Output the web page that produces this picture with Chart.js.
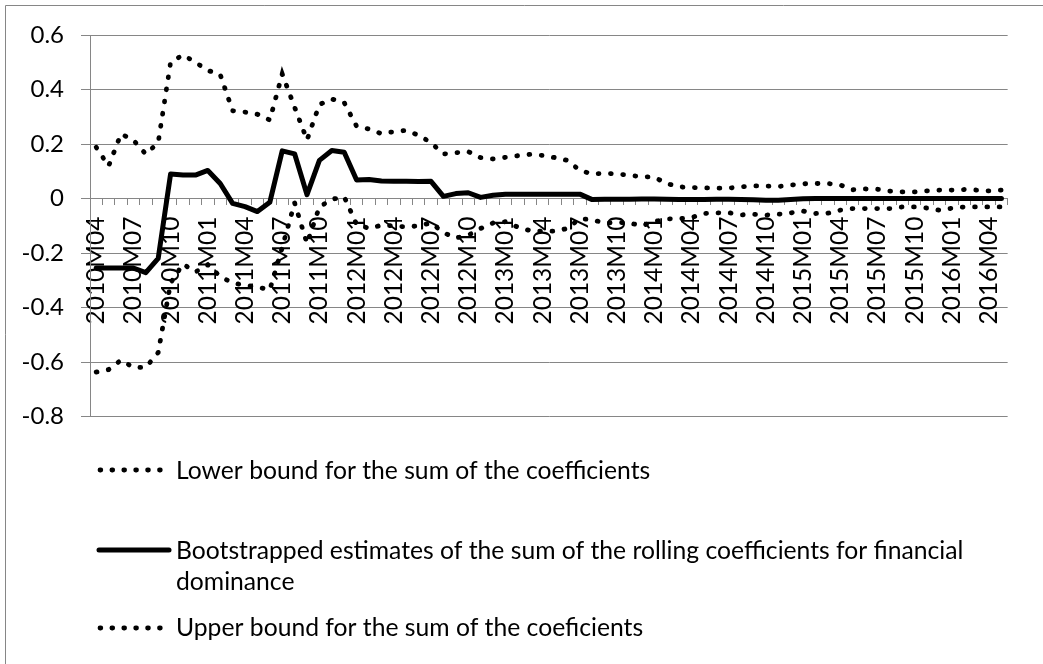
<!DOCTYPE html>
<html>
<head>
<meta charset="utf-8">
<script src="https://cdn.jsdelivr.net/npm/chart.js@4.4.0/dist/chart.umd.min.js"></script>
<style>
html,body{margin:0;padding:0;background:#fff;}
canvas{display:block;}
</style>
</head>
<body>
<canvas id="c" width="1043" height="664"></canvas>
<script>
const categories = [
  '2010M04','2010M05','2010M06','2010M07','2010M08','2010M09','2010M10','2010M11','2010M12',
  '2011M01','2011M02','2011M03','2011M04','2011M05','2011M06','2011M07','2011M08','2011M09','2011M10','2011M11','2011M12',
  '2012M01','2012M02','2012M03','2012M04','2012M05','2012M06','2012M07','2012M08','2012M09','2012M10','2012M11','2012M12',
  '2013M01','2013M02','2013M03','2013M04','2013M05','2013M06','2013M07','2013M08','2013M09','2013M10','2013M11','2013M12',
  '2014M01','2014M02','2014M03','2014M04','2014M05','2014M06','2014M07','2014M08','2014M09','2014M10','2014M11','2014M12',
  '2015M01','2015M02','2015M03','2015M04','2015M05','2015M06','2015M07','2015M08','2015M09','2015M10','2015M11','2015M12',
  '2016M01','2016M02','2016M03','2016M04','2016M05'
];

const lowerBound = [
  -0.637,-0.628,-0.593,-0.620,-0.620,-0.565,-0.310,-0.240,-0.270,
  -0.243,-0.286,-0.310,-0.318,-0.325,-0.335,-0.180,-0.016,-0.165,-0.031,-0.003,0.006,
  -0.095,-0.110,-0.098,-0.100,-0.105,-0.100,-0.090,-0.125,-0.145,-0.135,-0.110,-0.090,
  -0.085,-0.105,-0.118,-0.120,-0.120,-0.110,-0.074,-0.078,-0.090,-0.088,-0.090,-0.100,
  -0.085,-0.075,-0.074,-0.070,-0.055,-0.053,-0.052,-0.060,-0.058,-0.061,-0.058,-0.053,
  -0.046,-0.055,-0.054,-0.043,-0.037,-0.037,-0.037,-0.037,-0.031,-0.031,-0.035,-0.043,
  -0.036,-0.031,-0.031,-0.031,-0.031
];

const estimates = [
  -0.255,-0.255,-0.255,-0.255,-0.272,-0.220,0.090,0.086,0.086,
  0.103,0.055,-0.018,-0.030,-0.048,-0.014,0.175,0.164,0.014,0.140,0.176,0.170,
  0.068,0.070,0.064,0.063,0.063,0.062,0.063,0.008,0.018,0.021,0.004,0.012,
  0.016,0.016,0.016,0.016,0.016,0.016,0.016,-0.004,-0.003,-0.003,-0.003,-0.002,
  -0.002,-0.003,-0.004,-0.004,-0.004,-0.003,-0.003,-0.004,-0.005,-0.006,-0.006,-0.004,
  -0.001,0.000,0.000,0.000,0.000,0.000,0.000,0.000,0.000,0.000,0.000,0.000,
  0.000,0.000,0.000,0.000,0.000
];

const upperBound = [
  0.188,0.119,0.237,0.214,0.163,0.205,0.500,0.527,0.500,
  0.470,0.455,0.322,0.317,0.309,0.288,0.457,0.335,0.215,0.345,0.365,0.352,
  0.265,0.255,0.238,0.245,0.250,0.232,0.205,0.163,0.168,0.172,0.150,0.145,
  0.151,0.157,0.162,0.158,0.150,0.140,0.103,0.090,0.092,0.090,0.085,0.080,
  0.078,0.055,0.043,0.040,0.039,0.038,0.038,0.043,0.046,0.046,0.044,0.049,
  0.054,0.055,0.055,0.050,0.032,0.035,0.034,0.027,0.024,0.024,0.028,0.031,
  0.031,0.033,0.031,0.028,0.031
];

const legendTexts = [
  ['Lower bound for the sum of the coefficients'],
  ['Bootstrapped estimates of the sum of the rolling coefficients for financial', 'dominance'],
  ['Upper bound for the sum of the coeficients']
];

const FONT = 'Lato';
const GRID = '#868686';

const frameAndLegend = {
  id: 'frameAndLegend',
  beforeDraw(chart) {
    const ctx = chart.ctx;
    ctx.save();
    ctx.fillStyle = '#fff';
    ctx.fillRect(0, 0, chart.width, chart.height);
    ctx.strokeStyle = GRID;
    ctx.lineWidth = 1;
    ctx.beginPath();
    ctx.moveTo(5.5, chart.height);
    ctx.lineTo(5.5, 5.5);
    ctx.lineTo(chart.width, 5.5);
    ctx.stroke();
    ctx.restore();
  },
  afterDraw(chart) {
    const ctx = chart.ctx;
    ctx.save();
    ctx.fillStyle = '#000';
    ctx.strokeStyle = '#000';
    ctx.font = '24.7px ' + FONT;
    ctx.textBaseline = 'alphabetic';
    ctx.textAlign = 'left';
    const items = [
      {dash: true, y: 470, base: [478.5]},
      {dash: false, y: 550, base: [558.5, 590]},
      {dash: true, y: 628, base: [636]}
    ];
    items.forEach((it, k) => {
      ctx.beginPath();
      ctx.lineCap = 'round';
      if (it.dash) {
        ctx.lineWidth = 4.8;
        ctx.setLineDash([0.8, 11.1]);
        ctx.moveTo(100, it.y);
        ctx.lineTo(161, it.y);
      } else {
        ctx.lineWidth = 5;
        ctx.setLineDash([]);
        ctx.moveTo(99, it.y);
        ctx.lineTo(169, it.y);
      }
      ctx.stroke();
      ctx.setLineDash([]);
      legendTexts[k].forEach((t, j) => ctx.fillText(t, 176, it.base[j]));
    });
    ctx.restore();
  }
};

const dottedStyle = {
  borderColor: '#000',
  borderWidth: 4.8,
  borderDash: [0.8, 11.5],
  borderCapStyle: 'round',
  pointRadius: 0,
  tension: 0,
  fill: false
};

new Chart(document.getElementById('c'), {
  type: 'line',
  data: {
    labels: categories,
    datasets: [
      Object.assign({label: legendTexts[0][0], data: lowerBound}, dottedStyle),
      {
        label: legendTexts[1].join(' '),
        data: estimates,
        borderColor: '#000',
        borderWidth: 5,
        borderCapStyle: 'round',
        borderJoinStyle: 'round',
        pointRadius: 0,
        tension: 0,
        fill: false
      },
      Object.assign({label: legendTexts[2][0], data: upperBound}, dottedStyle)
    ]
  },
  options: {
    responsive: false,
    animation: false,
    events: [],
    layout: {padding: {left: 0, top: 35, right: 22, bottom: 247.5}},
    plugins: {
      legend: {display: false},
      tooltip: {enabled: false},
      title: {display: false}
    },
    scales: {
      x: {
        type: 'category',
        position: {y: 0},
        offset: true,
        grid: {
          display: true,
          drawOnChartArea: false,
          drawTicks: true,
          tickLength: 6,
          offset: true,
          color: GRID,
          lineWidth: 1
        },
        border: {display: true, color: GRID, width: 1},
        ticks: {
          autoSkip: false,
          minRotation: 90,
          maxRotation: 90,
          padding: 12,
          color: '#000',
          font: {family: FONT, size: 24.5},
          callback: (v, i) => (i % 3 === 0 ? categories[i] : '')
        }
      },
      y: {
        min: -0.8,
        max: 0.6,
        afterFit: (s) => { s.width = 90; },
        grid: {
          color: GRID,
          lineWidth: 1,
          drawTicks: true,
          tickLength: 9
        },
        border: {display: true, color: GRID, width: 1},
        ticks: {
          stepSize: 0.2,
          padding: 17,
          color: '#000',
          font: {family: FONT, size: 24},
          callback: (v) => String(Math.round(v * 10) / 10)
        }
      }
    }
  },
  plugins: [frameAndLegend]
});
</script>
</body>
</html>
